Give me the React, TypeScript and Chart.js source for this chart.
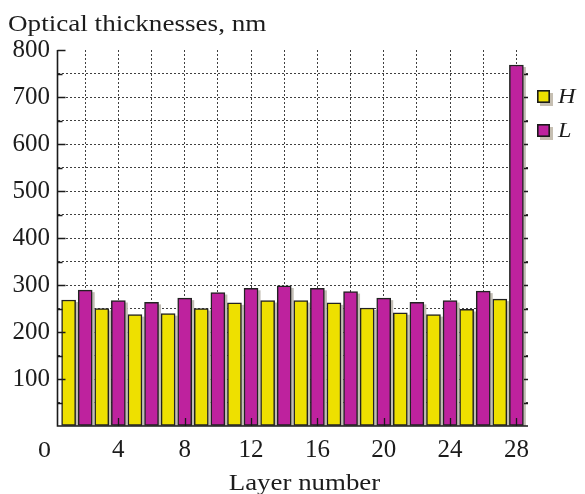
import React, { useEffect, useRef } from 'react';
import { Chart, registerables } from 'chart.js';

Chart.register(...registerables);

// ---- data ----
const hLayers = [1, 3, 5, 7, 9, 11, 13, 15, 17, 19, 21, 23, 25, 27];
const hValues = [268, 250, 237, 239, 250, 262, 267, 267, 262, 251, 241, 237, 248, 270];
const lLayers = [2, 4, 6, 8, 10, 12, 14, 16, 18, 20, 22, 24, 26, 28];
const lValues = [289, 267, 263, 272, 284, 293, 298, 293, 286, 272, 263, 267, 287, 768];
const xGridValues = [2, 4, 6, 8, 10, 12, 14, 16, 18, 20, 22, 24, 26, 28];
const xTickLabels = [4, 8, 12, 16, 20, 24, 28];
const yTickLabels = [100, 200, 300, 400, 500, 600, 700, 800];
const seriesNames = ['H', 'L'];
const seriesColors = ['#EEE000', '#BE229E'];
const titleText = 'Optical thicknesses, nm';
const xTitleText = 'Layer number';
const originLabel = '0';

const FONT = '"Liberation Serif", Tinos, "Times New Roman", Times, serif';
const TEXT = '#1c1c1c';

function stretched(ctx: CanvasRenderingContext2D, text: string, x: number, y: number, sx: number, align: CanvasTextAlign, font: string) {
  ctx.save();
  ctx.translate(x, y);
  ctx.scale(sx, 1);
  ctx.font = font;
  ctx.fillStyle = TEXT;
  ctx.textAlign = align;
  ctx.textBaseline = 'alphabetic';
  ctx.fillText(text, 0, 0);
  ctx.restore();
}

const decor = {
  id: 'decor',
  beforeDatasetsDraw(chart: any) {
    const ctx = chart.ctx as CanvasRenderingContext2D;
    const { left, right, top, bottom } = chart.chartArea;
    ctx.save();
    ctx.beginPath();
    ctx.rect(left, top, right - left, bottom - top);
    ctx.clip();
    ctx.fillStyle = '#c2bdb4';
    chart.data.datasets.forEach((_: any, i: number) => {
      const meta = chart.getDatasetMeta(i);
      meta.data.forEach((el: any) => {
        const { x, y, width, base } = el.getProps(['x', 'y', 'width', 'base'], true);
        ctx.fillRect(x - width / 2 + 2.5, y + 2, width, base - y);
      });
    });
    ctx.restore();
  },
  afterDatasetsDraw(chart: any) {
    const ctx = chart.ctx as CanvasRenderingContext2D;
    const { left, right, top, bottom } = chart.chartArea;
    const xs = chart.scales.x;
    const ys = chart.scales.y;
    ctx.save();
    ctx.strokeStyle = '#1a1a1a';
    ctx.lineWidth = 1.6;
    ctx.beginPath();
    ctx.moveTo(left, top);
    ctx.lineTo(left, bottom);
    ctx.lineTo(right, bottom);
    ctx.stroke();
    ctx.lineWidth = 1.3;
    ctx.beginPath();
    for (let v = 50; v <= 800; v += 50) {
      const py = Math.round(ys.getPixelForValue(v)) + 0.5;
      const len = v % 100 === 0 ? 8 : 5;
      ctx.moveTo(left, py);
      ctx.lineTo(left + len, py);
      if (v < 800) {
        ctx.moveTo(right - 4, py);
        ctx.lineTo(right, py);
      }
    }
    xTickLabels.forEach((v) => {
      const px = Math.round(xs.getPixelForValue(v)) + 0.5;
      ctx.moveTo(px, bottom);
      ctx.lineTo(px, bottom - 8);
    });
    ctx.stroke();
    ctx.restore();
  },
  afterDraw(chart: any) {
    const ctx = chart.ctx as CanvasRenderingContext2D;
    stretched(ctx, titleText, 8, 31, 1.13, 'left', `24px ${FONT}`);
    stretched(ctx, xTitleText, 304.5, 489.5, 1.12, 'center', `24px ${FONT}`);
    stretched(ctx, originLabel, 44.5, 456.5, 1.08, 'center', `24px ${FONT}`);
    const boxX = 537;
    const rows = [90, 124];
    seriesNames.forEach((name, i) => {
      const by = rows[i];
      ctx.save();
      ctx.fillStyle = '#c6bfb2';
      ctx.fillRect(boxX + 3, by + 3, 13, 13);
      ctx.fillStyle = seriesColors[i];
      ctx.fillRect(boxX, by, 13, 13);
      ctx.strokeStyle = '#1a1a1a';
      ctx.lineWidth = 1.6;
      ctx.strokeRect(boxX + 0.8, by + 0.8, 11.4, 11.4);
      ctx.restore();
      stretched(ctx, name, 558, by + 13, 1.1, 'left', `italic 22px ${FONT}`);
    });
  },
};

export default function App() {
  const ref = useRef<HTMLCanvasElement | null>(null);
  useEffect(() => {
    document.body.style.margin = '0';
    const canvas = ref.current;
    if (!canvas) return;
    let chart: Chart | null = null;
    let cancelled = false;
    const gridColor = (c: any) => {
      const v = c.tick ? c.tick.value : 0;
      return v === 0 || v === 800 ? 'rgba(0,0,0,0)' : 'rgba(30,30,30,0.85)';
    };
    const build = () => {
      if (cancelled) return;
      chart = new Chart(canvas, {
        type: 'bar',
        data: {
          datasets: [
            {
              label: seriesNames[0],
              data: hLayers.map((x, i) => ({ x, y: hValues[i] })),
              backgroundColor: seriesColors[0],
              borderColor: '#222',
              borderWidth: 1.5,
              borderSkipped: false,
              barThickness: 14,
              grouped: false,
            } as any,
            {
              label: seriesNames[1],
              data: lLayers.map((x, i) => ({ x, y: lValues[i] })),
              backgroundColor: seriesColors[1],
              borderColor: '#222',
              borderWidth: 1.5,
              borderSkipped: false,
              barThickness: 14,
              grouped: false,
            } as any,
          ],
        },
        options: {
          animation: false,
          responsive: false,
          devicePixelRatio: 1,
          layout: { padding: { left: 8, top: 50, right: 57, bottom: 0 } },
          plugins: {
            legend: { display: false },
            tooltip: { enabled: false },
            title: { display: false },
          },
          scales: {
            x: {
              type: 'linear',
              offset: false,
              min: 0.33,
              max: 28.7,
              afterBuildTicks: (s: any) => {
                s.ticks = xGridValues.map((value) => ({ value }));
              },
              afterFit: (s: any) => {
                s.height = 68;
              },
              ticks: {
                autoSkip: false,
                maxRotation: 0,
                padding: 9,
                color: TEXT,
                font: { family: FONT, size: 25 },
                callback: (v: any) => (xTickLabels.includes(Number(v)) ? String(v) : ''),
              },
              grid: { color: gridColor, lineWidth: 1, drawTicks: false, offset: false },
              border: { display: false, dash: [2, 2] },
            },
            y: {
              type: 'linear',
              min: 0,
              max: 800,
              afterBuildTicks: (s: any) => {
                const t: any[] = [];
                for (let v = 0; v <= 800; v += 50) t.push({ value: v });
                s.ticks = t;
              },
              afterFit: (s: any) => {
                s.width = 49.5;
              },
              ticks: {
                autoSkip: false,
                padding: 7.5,
                color: TEXT,
                font: { family: FONT, size: 25 },
                callback: (v: any) => (yTickLabels.includes(Number(v)) ? String(v) : ''),
              },
              grid: { color: gridColor, lineWidth: 1, drawTicks: false },
              border: { display: false, dash: [2, 2] },
            },
          },
        } as any,
        plugins: [decor],
      });
    };
    const fonts: any = (document as any).fonts;
    if (fonts && fonts.load) {
      Promise.all([
        fonts.load('25px "Liberation Serif"'),
        fonts.load('italic 22px "Liberation Serif"'),
      ])
        .catch(() => null)
        .then(build);
    } else {
      build();
    }
    return () => {
      cancelled = true;
      if (chart) chart.destroy();
    };
  }, []);
  return (
    <div style={{ width: 585, height: 494 }}>
      <canvas ref={ref} width={585} height={494} style={{ display: 'block', width: 585, height: 494 }} />
    </div>
  );
}
